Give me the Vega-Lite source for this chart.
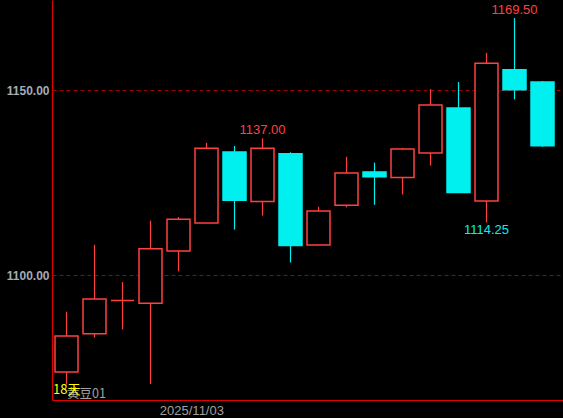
{
  "$schema": "https://vega.github.io/schema/vega-lite/v6.json",
  "width": 511,
  "height": 400,
  "autosize": {"type": "none"},
  "padding": {"left": 52, "top": 0, "right": 0, "bottom": 18},
  "background": "#000000",
  "config": {
    "view": {"stroke": null},
    "font": "Liberation Sans"
  },
  "datasets": {
    "candles": [
      {"i": 0, "date": "2025-10-27", "open": 1073.8, "high": 1090.1, "low": 1070.4, "close": 1083.5},
      {"i": 1, "date": "2025-10-28", "open": 1084.1, "high": 1108.2, "low": 1083.1, "close": 1093.5},
      {"i": 2, "date": "2025-10-29", "open": 1093.1, "high": 1098.1, "low": 1085.3, "close": 1093.1},
      {"i": 3, "date": "2025-10-30", "open": 1092.4, "high": 1114.7, "low": 1070.5, "close": 1107.1},
      {"i": 4, "date": "2025-10-31", "open": 1106.5, "high": 1115.7, "low": 1101.0, "close": 1115.1},
      {"i": 5, "date": "2025-11-03", "open": 1114.1, "high": 1135.8, "low": 1114.0, "close": 1134.3},
      {"i": 6, "date": "2025-11-04", "open": 1133.3, "high": 1134.9, "low": 1112.3, "close": 1120.2},
      {"i": 7, "date": "2025-11-05", "open": 1119.9, "high": 1137.0, "low": 1116.1, "close": 1134.3},
      {"i": 8, "date": "2025-11-06", "open": 1132.8, "high": 1133.2, "low": 1103.4, "close": 1108.0},
      {"i": 9, "date": "2025-11-07", "open": 1108.1, "high": 1118.5, "low": 1108.0, "close": 1117.3},
      {"i": 10, "date": "2025-11-10", "open": 1118.9, "high": 1132.0, "low": 1118.3, "close": 1127.6},
      {"i": 11, "date": "2025-11-11", "open": 1127.9, "high": 1130.4, "low": 1119.0, "close": 1126.6},
      {"i": 12, "date": "2025-11-12", "open": 1126.4, "high": 1134.4, "low": 1121.8, "close": 1134.1},
      {"i": 13, "date": "2025-11-13", "open": 1133.0, "high": 1150.3, "low": 1129.6, "close": 1146.0},
      {"i": 14, "date": "2025-11-14", "open": 1145.2, "high": 1152.2, "low": 1122.3, "close": 1122.3},
      {"i": 15, "date": "2025-11-17", "open": 1120.0, "high": 1160.1, "low": 1114.25, "close": 1157.3},
      {"i": 16, "date": "2025-11-18", "open": 1155.5, "high": 1169.5, "low": 1147.5, "close": 1150.1},
      {"i": 17, "date": "2025-11-19", "open": 1152.2, "high": 1152.5, "low": 1134.7, "close": 1135.0}
    ],
    "labels": [
      {"label": "黄豆01", "days": "18天"}
    ]
  },
  "data": {"name": "candles"},
  "layer": [
    {
      "mark": {"type": "rule", "strokeWidth": 1.2},
      "encoding": {
        "x": {
          "field": "i",
          "type": "quantitative",
          "scale": {"domain": [-0.518, 17.732], "nice": false, "zero": false, "padding": 0},
          "axis": {
            "values": [4.46],
            "labelExpr": "'2025/11/03'",
            "title": null,
            "grid": false,
            "ticks": false,
            "domainColor": "#e00000",
            "domainWidth": 1.2,
            "labelColor": "#a0a0a0",
            "labelFontSize": 13,
            "labelFont": "Liberation Sans",
            "labelPadding": 4
          }
        },
        "y": {
          "field": "low",
          "type": "quantitative",
          "scale": {"domain": [1066.2, 1174.4], "nice": false, "zero": false},
          "axis": {
            "values": [1100, 1150],
            "format": ".2f",
            "title": null,
            "ticks": false,
            "grid": true,
            "gridColor": "#a00000",
            "gridDash": [4, 3],
            "gridWidth": 1,
            "domainColor": "#e00000",
            "domainWidth": 1.2,
            "labelColor": "#a3acb6",
            "labelFontSize": 12,
            "labelFontWeight": "bold",
            "labelFont": "Liberation Sans",
            "labelPadding": 3
          }
        },
        "y2": {"field": "high"},
        "color": {
          "condition": {"test": "datum.close >= datum.open", "value": "#ff4040"},
          "value": "#00f0f0"
        }
      }
    },
    {
      "mark": {"type": "bar", "size": 23, "strokeWidth": 1.5, "orient": "vertical"},
      "encoding": {
        "x": {"field": "i", "type": "quantitative"},
        "y": {"field": "open", "type": "quantitative"},
        "y2": {"field": "close"},
        "fill": {
          "condition": {"test": "datum.close >= datum.open", "value": "#000000"},
          "value": "#00f0f0"
        },
        "stroke": {
          "condition": {"test": "datum.close >= datum.open", "value": "#ff4040"},
          "value": "#00f0f0"
        }
      }
    },
    {
      "transform": [{"filter": "datum.i == 7 || datum.i == 16"}],
      "mark": {"type": "text", "baseline": "bottom", "dy": -1, "fontSize": 13, "color": "#ff4040", "font": "Liberation Sans"},
      "encoding": {
        "x": {"field": "i", "type": "quantitative"},
        "y": {"field": "high", "type": "quantitative"},
        "text": {"field": "high", "type": "quantitative", "format": ".2f"}
      }
    },
    {
      "transform": [{"filter": "datum.i == 15"}],
      "mark": {"type": "text", "baseline": "top", "dy": 2, "fontSize": 13, "color": "#00f0f0", "font": "Liberation Sans"},
      "encoding": {
        "x": {"field": "i", "type": "quantitative"},
        "y": {"field": "low", "type": "quantitative"},
        "text": {"field": "low", "type": "quantitative", "format": ".2f"}
      }
    },
    {
      "data": {"name": "labels"},
      "mark": {"type": "text", "align": "left", "baseline": "middle", "fontSize": 12.5, "color": "#a0a0a0", "font": "Noto Sans CJK SC"},
      "encoding": {
        "x": {"datum": 0.02, "type": "quantitative"},
        "y": {"datum": 1067.9, "type": "quantitative"},
        "text": {"field": "label", "type": "nominal"}
      }
    },
    {
      "data": {"name": "labels"},
      "mark": {"type": "text", "align": "left", "baseline": "middle", "fontSize": 13, "color": "#ffff00", "font": "Noto Sans CJK SC"},
      "encoding": {
        "x": {"datum": -0.48, "type": "quantitative"},
        "y": {"datum": 1069.0, "type": "quantitative"},
        "text": {"field": "days", "type": "nominal"}
      }
    }
  ]
}
